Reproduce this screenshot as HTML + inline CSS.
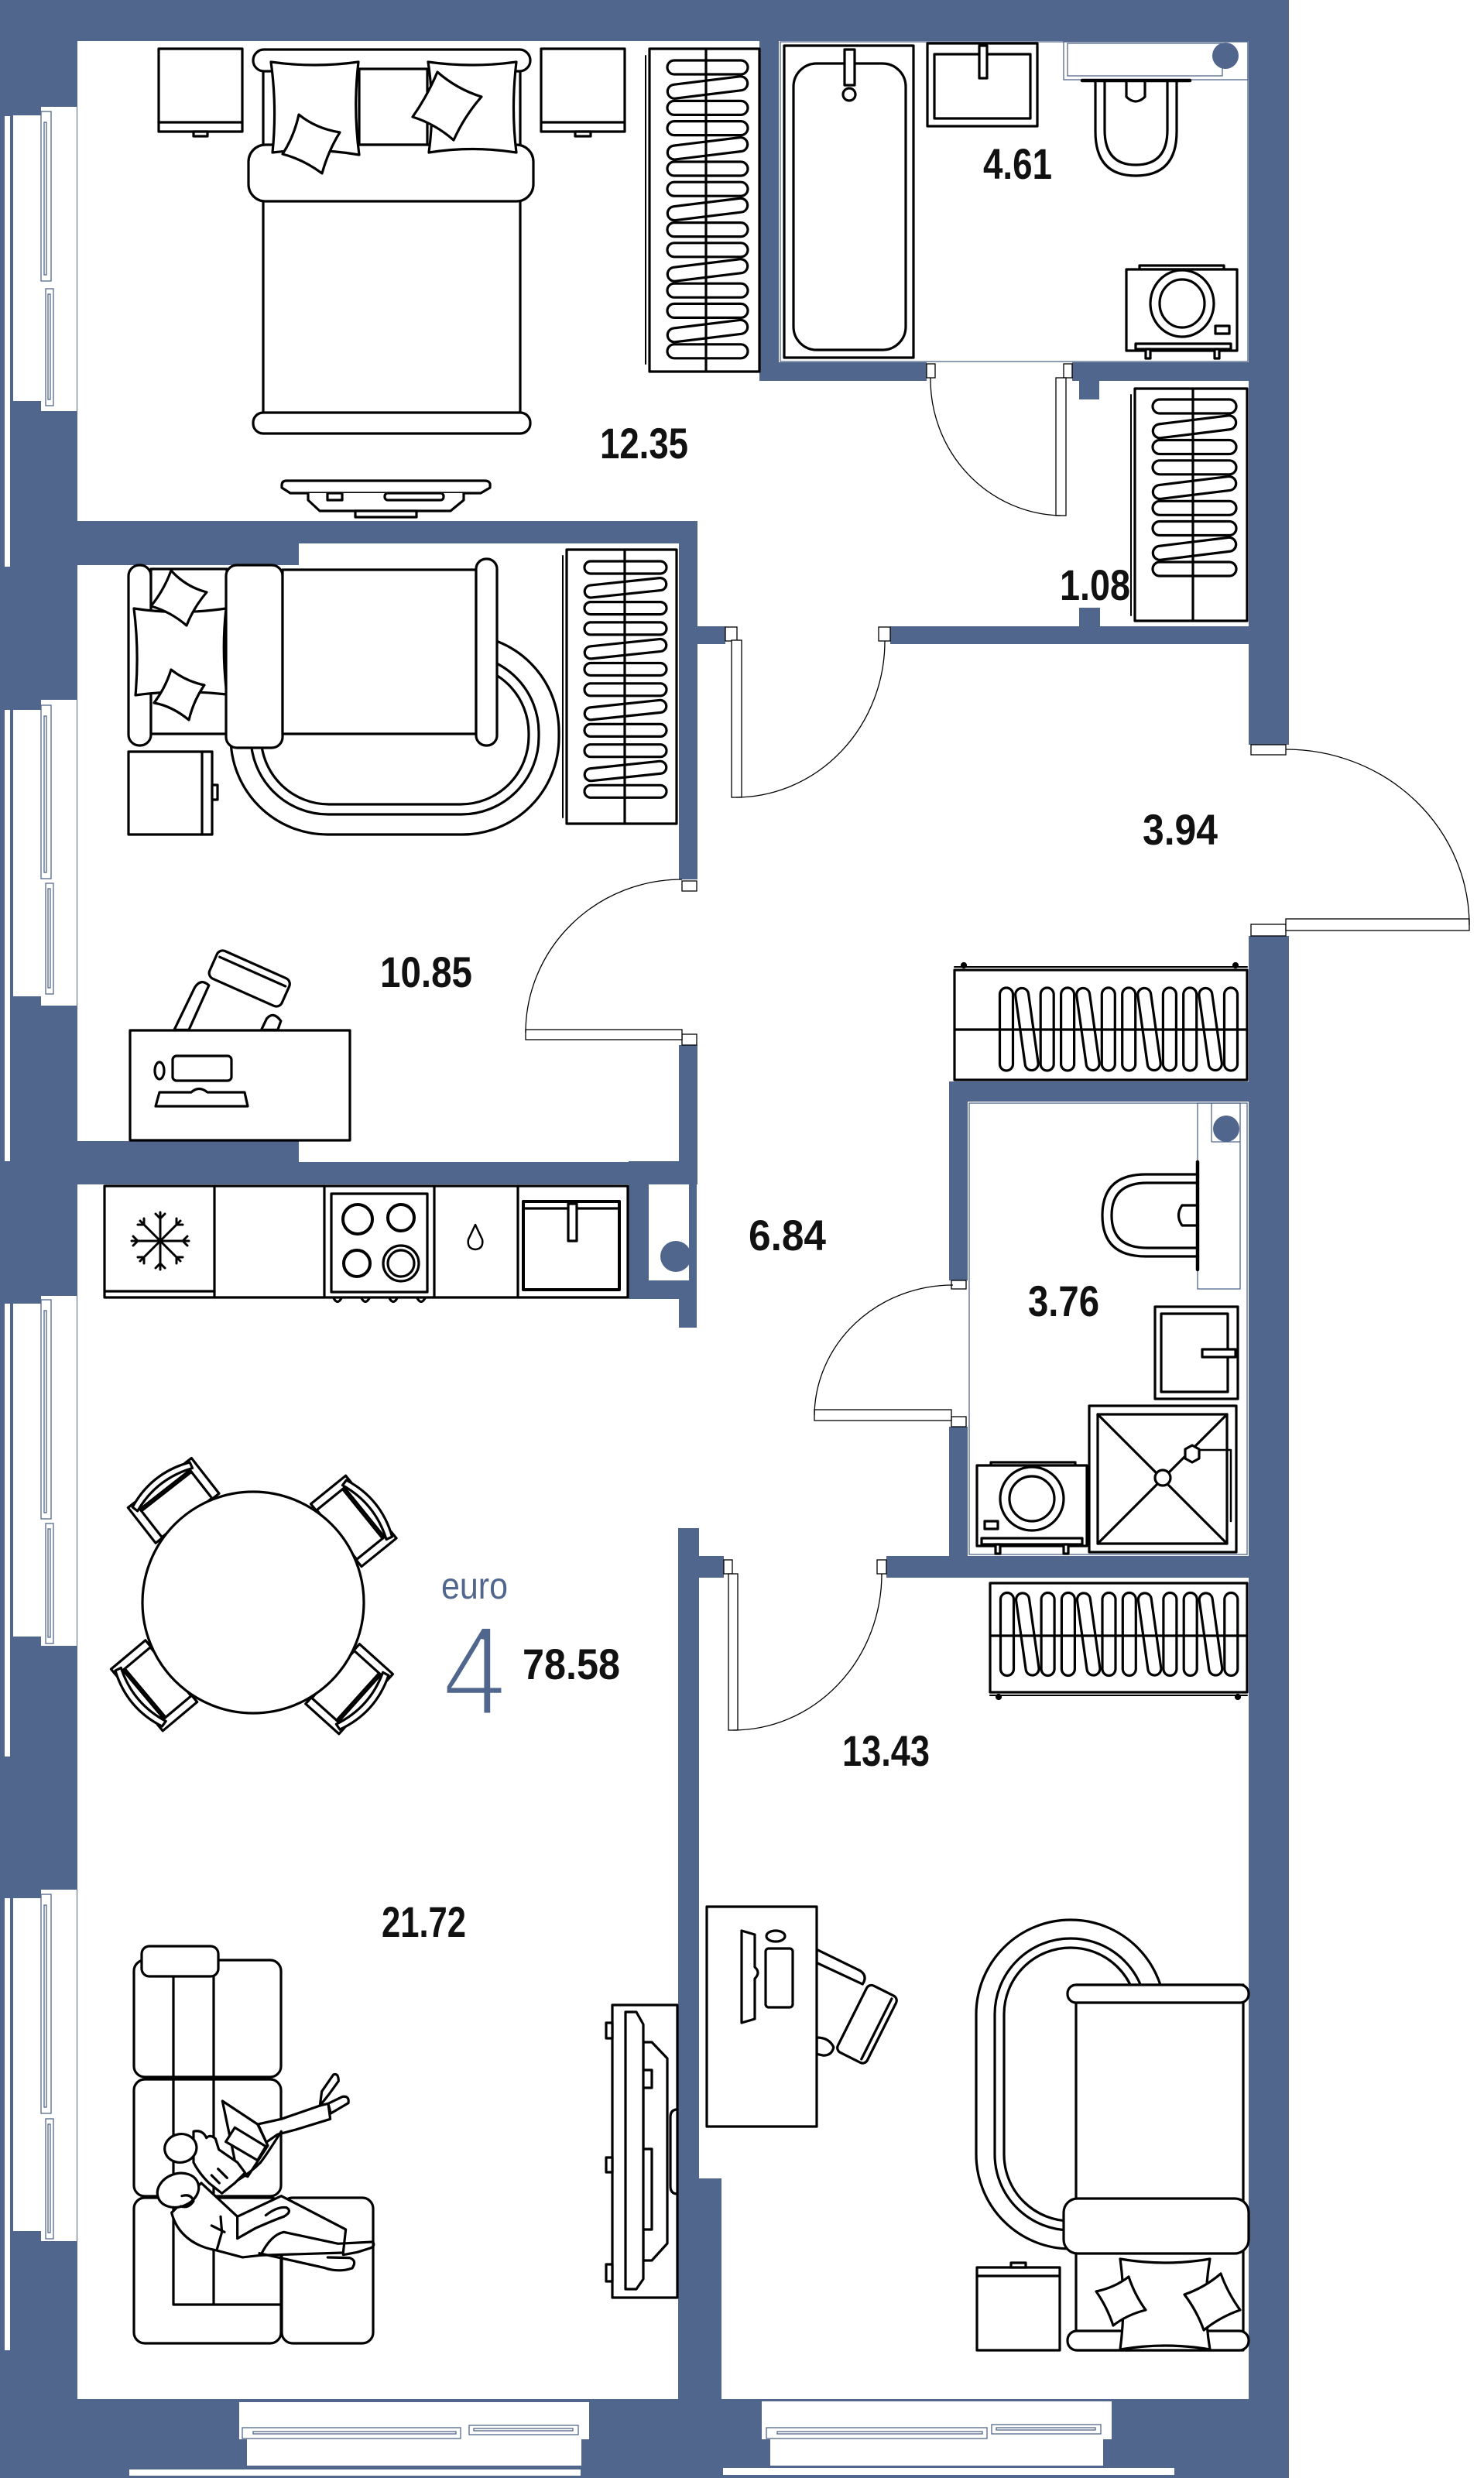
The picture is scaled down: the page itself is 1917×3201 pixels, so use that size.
<!DOCTYPE html>
<html><head><meta charset="utf-8">
<style>
html,body{margin:0;padding:0;background:#fff;}
svg{display:block;}
</style></head><body>
<svg width="1917" height="3201" viewBox="0 0 1917 3201" xmlns="http://www.w3.org/2000/svg" xmlns:xlink="http://www.w3.org/1999/xlink">
<defs>
<rect id="l1" x="-52" y="-9" width="104" height="18" rx="9"/>
<rect id="l2" x="-53" y="-8" width="106" height="16" rx="8"/>
<rect id="l3" x="-54" y="-9" width="108" height="18" rx="9"/>
<rect id="lv" x="-8.5" y="-53.5" width="17" height="107" rx="8.5"/>
<g id="dchair">
<rect x="-42" y="-42" width="84" height="46"/>
<rect x="-52" y="-53" width="11" height="58"/>
<rect x="41" y="-53" width="11" height="58"/>
<line x1="-41" y1="-39" x2="41" y2="-39"/>
<path d="M-45 -42 Q0 -60 45 -42 L47 -50 Q0 -70 -47 -50 Z"/>
</g>
</defs>

<rect width="1917" height="3201" fill="#fff"/>

<!-- WALLS -->
<g fill="#51668c">
<rect x="0" y="0" width="1665" height="53"/>
<rect x="0" y="0" width="100" height="3201"/>
<rect x="1613" y="0" width="52" height="962"/>
<rect x="1613" y="1209" width="52" height="1992"/>
<rect x="0" y="3099" width="1665" height="102"/>
<rect x="100" y="673" width="801" height="29"/>
<rect x="100" y="700" width="286" height="30"/>
<rect x="877" y="673" width="24" height="463"/>
<rect x="877" y="1350" width="24" height="180"/>
<rect x="100" y="1474" width="286" height="30"/>
<rect x="100" y="1501" width="801" height="29"/>
<path fill-rule="evenodd" d="M812 1500 H900 V1715 H877 V1678 H812 Z M838 1526 V1654 H890 V1526 Z"/>
<rect x="876" y="1974" width="27" height="1130"/>
<rect x="903" y="2814" width="29" height="290"/>
<rect x="901" y="809" width="36" height="23"/>
<rect x="1150" y="809" width="463" height="23"/>
<rect x="1394" y="785" width="27" height="25"/>
<rect x="981" y="50" width="25" height="442"/>
<rect x="981" y="468" width="216" height="24"/>
<rect x="1385" y="468" width="228" height="24"/>
<rect x="1394" y="490" width="26" height="26"/>
<rect x="1226" y="1397" width="387" height="26"/>
<rect x="1226" y="1397" width="24" height="257"/>
<rect x="1226" y="1843" width="24" height="195"/>
<rect x="1145" y="2010" width="468" height="28"/>
<rect x="903" y="2010" width="32" height="28"/>
</g>
<circle cx="873" cy="1623" r="20" fill="#51668c"/>

<!-- LEFT WINDOWS -->
<g fill="#fff">
<rect x="53" y="138" width="46" height="393"/><rect x="17" y="149" width="36" height="369"/><rect x="6" y="150" width="7" height="582"/>
<rect x="53" y="904" width="46" height="395"/><rect x="17" y="917" width="36" height="370"/><rect x="6" y="917" width="7" height="583"/>
<rect x="53" y="1674" width="46" height="452"/><rect x="17" y="1684" width="36" height="430"/><rect x="6" y="1684" width="7" height="585"/>
<rect x="53" y="2441" width="46" height="454"/><rect x="17" y="2452" width="36" height="430"/><rect x="6" y="2452" width="7" height="584"/>
<rect x="309" y="3103" width="452" height="48"/><rect x="319" y="3150" width="432" height="35"/><rect x="167" y="3190" width="583" height="8"/>
<rect x="984" y="3102" width="452" height="49"/><rect x="995" y="3151" width="430" height="34"/><rect x="934" y="3188" width="583" height="9"/>
</g>
<g fill="none" stroke="#51668c" stroke-width="1.3">
<rect x="53" y="144" width="13" height="219"/><rect x="57" y="158" width="3" height="197"/><rect x="59" y="373" width="10" height="151"/><rect x="62" y="380" width="3" height="136"/>
<rect x="53" y="911" width="13" height="224"/><rect x="57" y="925" width="3" height="202"/><rect x="59" y="1141" width="10" height="143"/><rect x="62" y="1148" width="3" height="128"/>
<rect x="53" y="1679" width="13" height="283"/><rect x="57" y="1693" width="3" height="261"/><rect x="59" y="1968" width="10" height="155"/><rect x="62" y="1975" width="3" height="140"/>
<rect x="53" y="2447" width="13" height="283"/><rect x="57" y="2461" width="3" height="261"/><rect x="59" y="2737" width="10" height="155"/><rect x="62" y="2744" width="3" height="140"/>
<rect x="313" y="3136" width="282" height="14"/><rect x="327" y="3141" width="262" height="3"/><rect x="606" y="3133" width="141" height="12"/><rect x="612" y="3137" width="128" height="3"/>
<rect x="990" y="3136" width="285" height="14"/><rect x="1004" y="3141" width="265" height="3"/><rect x="1281" y="3132" width="141" height="12"/><rect x="1287" y="3136" width="128" height="3"/>
<rect x="1008" y="54" width="604" height="413"/>
<rect x="1374" y="53" width="238" height="50"/>
<rect x="1379" y="56" width="200" height="42"/>
<rect x="1252" y="1425" width="359" height="583"/>
<rect x="1547" y="1425" width="55" height="240"/>
<line x1="1565" y1="1425" x2="1565" y2="1475"/><line x1="1565" y1="1475" x2="1602" y2="1475"/>
</g>
<circle cx="1583" cy="72" r="17" fill="#51668c"/>
<circle cx="1584" cy="1458" r="17" fill="#51668c"/>

<!-- DOORS -->
<g fill="#fff" stroke="#000" stroke-width="1.3">
<rect x="1197" y="470" width="11" height="18"/><rect x="1374" y="470" width="11" height="18"/><rect x="1364" y="488" width="13" height="178"/>
<rect x="937" y="810" width="15" height="18"/><rect x="1135" y="810" width="15" height="18"/><rect x="945" y="827" width="13" height="203"/>
<rect x="881" y="1138" width="19" height="13"/><rect x="881" y="1336" width="19" height="14"/><rect x="679" y="1330" width="202" height="13"/>
<rect x="1616" y="962" width="45" height="13"/><rect x="1616" y="1194" width="45" height="15"/><rect x="1661" y="1187" width="237" height="15"/>
<rect x="1229" y="1654" width="19" height="11"/><rect x="1229" y="1830" width="19" height="13"/><rect x="1052" y="1821" width="177" height="14"/>
<rect x="935" y="2015" width="11" height="18"/><rect x="1133" y="2015" width="12" height="18"/><rect x="941" y="2033" width="12" height="202"/>
</g>
<g fill="none" stroke="#000" stroke-width="1.3">
<path d="M1202 488 A172 176 0 0 0 1370 666"/>
<path d="M1143 828 A193 202 0 0 1 951 1030"/>
<path d="M881 1136 A202 198 0 0 0 679 1334"/>
<path d="M1661 968 A237 227 0 0 1 1898 1195"/>
<path d="M1231 1660 A179 170 0 0 0 1052 1828"/>
<path d="M1139 2033 A192 202 0 0 1 947 2235"/>
</g>

<!-- FURNITURE -->
<g fill="#fff" stroke="#000" stroke-width="3.2" stroke-linejoin="round" stroke-linecap="round">

<!-- Bedroom 12.35 -->
<rect x="205" y="63" width="108" height="107"/><line x1="205" y1="158" x2="313" y2="158"/><rect x="250" y="170" width="18" height="6"/>
<rect x="699" y="63" width="108" height="107"/><line x1="699" y1="158" x2="807" y2="158"/><rect x="743" y="170" width="20" height="6"/>
<rect x="340" y="72" width="332" height="470"/>
<rect x="327" y="64" width="358" height="28" rx="14"/>
<rect x="464" y="89" width="88" height="98"/>
<rect x="321" y="187" width="368" height="73" rx="22"/>
<path d="M350 80 Q406 88 463 80 Q456 140 464 200 Q406 190 352 197 Q358 138 350 80 Z"/>
<path d="M553 80 Q610 88 667 80 Q660 140 667 197 Q610 188 554 197 Q562 138 553 80 Z"/>
<path d="M386 148 Q408 166 439 171 Q424 195 416 224 Q392 206 365 199 Q380 176 386 148 Z"/>
<path d="M565 93 Q590 115 622 125 Q600 150 586 181 Q562 160 533 151 Q552 124 565 93 Z"/>
<rect x="327" y="533" width="358" height="27" rx="13"/>
<path d="M370 621 H626 Q634 621 633 628 V630 L621 637 H375 L364 630 V627 Q364 621 370 621 Z"/>
<path d="M398 637 V646 L413 660 H582 L599 646 V637"/>
<rect x="459" y="660" width="79" height="8"/>
<rect x="423" y="637" width="19" height="9"/>
<rect x="497" y="637" width="76" height="9" rx="4"/>
<!-- wardrobe 1 -->
<rect x="839" y="63" width="142" height="417"/>
<line x1="834" y1="72" x2="834" y2="470" stroke-width="2"/>
<use xlink:href="#l1" transform="translate(914 87)"/>
<use xlink:href="#l1" transform="translate(914 113) rotate(-7)"/>
<use xlink:href="#l1" transform="translate(914 139.4)"/>
<use xlink:href="#l1" transform="translate(914 165.6)"/>
<use xlink:href="#l1" transform="translate(914 191.8) rotate(-7)"/>
<use xlink:href="#l1" transform="translate(914 218)"/>
<use xlink:href="#l1" transform="translate(914 244.2)"/>
<use xlink:href="#l1" transform="translate(914 270.4) rotate(-7)"/>
<use xlink:href="#l1" transform="translate(914 296.6)"/>
<use xlink:href="#l1" transform="translate(914 322.8)"/>
<use xlink:href="#l1" transform="translate(914 349) rotate(-7)"/>
<use xlink:href="#l1" transform="translate(914 375.2)"/>
<use xlink:href="#l1" transform="translate(914 401.4)"/>
<use xlink:href="#l1" transform="translate(914 427.6) rotate(-7)"/>
<use xlink:href="#l1" transform="translate(914 453.8)"/>
<line x1="912" y1="63" x2="912" y2="480" fill="none"/>

<!-- Bathroom 4.61 -->
<rect x="1013" y="59" width="167" height="403"/>
<rect x="1025" y="82" width="145" height="370" rx="30"/>
<rect x="1091" y="64" width="13" height="46"/>
<circle cx="1097" cy="122" r="8"/>
<rect x="1198" y="56" width="142" height="107"/>
<rect x="1207" y="70" width="124" height="83"/>
<rect x="1265" y="59" width="10" height="42"/>
<path d="M1415 105 V170 Q1415 227 1467 227 Q1520 227 1520 170 V105"/>
<path d="M1427 105 V168 Q1427 213 1467 213 Q1508 213 1508 168 V105"/>
<path d="M1455 105 V125 Q1467 137 1479 125 V105"/>
<line x1="1398" y1="104" x2="1537" y2="104" stroke-width="4.5"/>
<rect x="1472" y="343" width="109" height="5"/>
<rect x="1455" y="348" width="143" height="105"/>
<ellipse cx="1527" cy="392" rx="41" ry="43"/>
<ellipse cx="1527" cy="392" rx="29" ry="31"/>
<rect x="1570" y="421" width="18" height="10"/>
<rect x="1467" y="444" width="123" height="7"/>
<rect x="1480" y="451" width="6" height="12"/><rect x="1569" y="451" width="6" height="12"/>

<!-- 1.08 wardrobe -->
<rect x="1466" y="502" width="145" height="300"/>
<line x1="1461" y1="510" x2="1461" y2="795" stroke-width="2"/>
<use xlink:href="#l3" transform="translate(1543 525)"/>
<use xlink:href="#l3" transform="translate(1543 551.3) rotate(-7)"/>
<use xlink:href="#l3" transform="translate(1543 577.5)"/>
<use xlink:href="#l3" transform="translate(1543 603.8)"/>
<use xlink:href="#l3" transform="translate(1543 630) rotate(-7)"/>
<use xlink:href="#l3" transform="translate(1543 656.3)"/>
<use xlink:href="#l3" transform="translate(1543 682.5)"/>
<use xlink:href="#l3" transform="translate(1543 708.8) rotate(-7)"/>
<use xlink:href="#l3" transform="translate(1543 735)"/>
<line x1="1541" y1="502" x2="1541" y2="802" fill="none"/>

<!-- Room 10.85 -->
<rect x="298" y="820" width="424" height="258" rx="125"/>
<rect x="324" y="846" width="372" height="206" rx="100"/>
<rect x="337" y="859" width="346" height="180" rx="88"/>
<rect x="166" y="730" width="29" height="233" rx="14"/>
<rect x="195" y="735" width="98" height="213"/>
<path d="M173 786 Q230 795 292 786 Q286 840 293 897 Q232 890 175 898 Q180 842 173 786 Z"/>
<path d="M221 737 Q240 758 267 765 Q250 785 241 808 Q220 790 195 783 Q212 762 221 737 Z"/>
<path d="M221 865 Q240 880 264 885 Q250 905 244 930 Q222 912 199 908 Q214 888 221 865 Z"/>
<rect x="292" y="730" width="73" height="236" rx="14"/>
<rect x="365" y="736" width="250" height="212"/>
<rect x="615" y="722" width="27" height="241" rx="13"/>
<rect x="166" y="971" width="108" height="107"/>
<line x1="261" y1="971" x2="261" y2="1078"/>
<rect x="274" y="1014" width="7" height="19"/>
<rect x="732" y="710" width="142" height="354"/>
<line x1="727" y1="718" x2="727" y2="1056" stroke-width="2"/>
<use xlink:href="#l2" transform="translate(808 733)"/>
<use xlink:href="#l2" transform="translate(808 759.3) rotate(-6)"/>
<use xlink:href="#l2" transform="translate(808 785.6)"/>
<use xlink:href="#l2" transform="translate(808 811.9)"/>
<use xlink:href="#l2" transform="translate(808 838.2) rotate(-6)"/>
<use xlink:href="#l2" transform="translate(808 864.5)"/>
<use xlink:href="#l2" transform="translate(808 890.8)"/>
<use xlink:href="#l2" transform="translate(808 917.1) rotate(-6)"/>
<use xlink:href="#l2" transform="translate(808 943.4)"/>
<use xlink:href="#l2" transform="translate(808 969.7)"/>
<use xlink:href="#l2" transform="translate(808 996) rotate(-6)"/>
<use xlink:href="#l2" transform="translate(808 1022.3)"/>
<line x1="807" y1="710" x2="807" y2="1064" fill="none"/>
<g transform="translate(0 650) scale(0.5741)" stroke-width="5.6">
<path d="M392 1185 L438 1090 Q452 1068 470 1085 L425 1185 Z"/>
<path d="M588 1185 L600 1160 Q615 1142 632 1165 L625 1185 Z"/>
<g transform="rotate(24 560 1070)"><rect x="472" y="1035" width="178" height="68" rx="14"/><line x1="480" y1="1052" x2="642" y2="1052"/></g>
</g>
<rect x="168" y="1331" width="284" height="142"/>
<rect x="223" y="1364" width="76" height="32" rx="5"/>
<ellipse cx="206" cy="1383" rx="6" ry="11"/>
<path d="M201 1429 L206 1411 H247 Q257 1402 268 1411 H316 L320 1429 Z"/>

<!-- Kitchen -->
<rect x="135" y="1532" width="676" height="144"/>
<line x1="277" y1="1532" x2="277" y2="1676"/><line x1="419" y1="1532" x2="419" y2="1676"/>
<line x1="561" y1="1532" x2="561" y2="1676"/><line x1="669" y1="1532" x2="669" y2="1676"/>
<line x1="135" y1="1668" x2="277" y2="1668"/>
<g fill="none" stroke-width="3">
<path d="M170 1603 H244 M207 1566 V1640 M181 1577 L233 1629 M233 1577 L181 1629"/>
<path d="M242 1597 L236 1603 L242 1609 M172 1597 L178 1603 L172 1609 M201 1568 L207 1574 L213 1568 M201 1638 L207 1632 L213 1638"/>
<path d="M236 1582 L228 1582 L228 1574 M178 1582 L186 1582 L186 1574 M178 1624 L186 1624 L186 1632 M236 1624 L228 1624 L228 1632"/>
</g>
<rect x="428" y="1542" width="124" height="127"/>
<circle cx="462" cy="1575" r="19" stroke-width="4"/>
<circle cx="518" cy="1573" r="17" stroke-width="4"/>
<circle cx="461" cy="1632" r="17" stroke-width="4"/>
<circle cx="518" cy="1632" r="23"/>
<circle cx="518" cy="1632" r="17"/>
<path d="M431 1677 Q436 1686 441 1677 M467 1677 Q472 1686 477 1677 M503 1677 Q508 1686 513 1677 M539 1677 Q544 1686 549 1677" fill="none"/>
<path d="M614 1582 Q620 1595 623 1601 Q625 1613 614 1614 Q603 1613 605 1601 Q608 1595 614 1582 Z" stroke-width="2.5"/>
<rect x="676" y="1552" width="124" height="114" stroke-width="4"/>
<line x1="676" y1="1561" x2="800" y2="1561"/>
<rect x="734" y="1555" width="11" height="48"/>

<!-- Dining -->
<use xlink:href="#dchair" transform="translate(327 2070) rotate(-38) translate(0 -143)"/>
<use xlink:href="#dchair" transform="translate(327 2070) rotate(51) translate(0 -143)"/>
<use xlink:href="#dchair" transform="translate(327 2070) rotate(132) translate(0 -143)"/>
<use xlink:href="#dchair" transform="translate(327 2070) rotate(-130) translate(0 -143)"/>
<circle cx="327" cy="2070" r="143"/>

<!-- Living sofa -->
<rect x="173" y="2532" width="190" height="151" rx="14"/>
<rect x="173" y="2686" width="190" height="151" rx="14"/>
<rect x="173" y="2839" width="190" height="188" rx="14"/>
<rect x="364" y="2839" width="118" height="188" rx="14"/>
<rect x="183" y="2514" width="99" height="39" rx="10"/>
<path d="M224 2553 V2977 H363 M276 2553 V2977" fill="none"/>
<g transform="translate(150 2620) scale(0.3333)" stroke-width="9.6">
<path d="M550 372 L640 352 L790 300 L822 292 L830 352 L700 392 L625 412 L582 442 Z"/>
<path d="M790 300 L797 245 L842 180 Q862 172 862 205 L822 260 Z"/>
<path d="M822 292 L878 265 Q905 262 900 290 L832 330 Z"/>
<path d="M412 282 L548 372 L588 455 L510 575 L470 560 Z"/>
<path d="M425 440 L460 385 L580 458 L548 512 Z"/>
<path d="M640 400 Q590 480 560 520 Q520 560 470 590" fill="none"/>
<path d="M300 400 Q335 392 350 425 Q365 410 385 428 L398 470 L470 520 L500 560 L460 600 L410 640 L360 600 Q320 560 300 520 Z"/>
<path d="M370 570 L400 600 M395 545 L430 580" fill="none"/>
<ellipse cx="250" cy="465" rx="62" ry="55" transform="rotate(-10 250 465)"/>
<path d="M330 600 L470 730 L640 650 L890 780 L880 870 L560 880 L490 888 L385 860 C300 845 235 795 215 715 Z"/>
<path d="M560 880 Q600 800 650 790 L860 835 L995 828 Q1005 845 985 852 L935 868 L880 878" fill="none"/>
<path d="M555 872 L805 928 Q860 948 915 930 Q935 900 905 890 L820 888" fill="none"/>
<path d="M470 730 V815 L540 775 Q620 740 650 730 Q685 710 660 695 Q625 690 580 725" fill="none"/>
<path d="M370 765 L420 790 M405 730 L410 790 L390 860" fill="none"/>
<ellipse cx="240" cy="628" rx="82" ry="64" transform="rotate(-20 240 628)"/>
<path d="M255 650 Q290 640 300 670 Q280 700 250 690" fill="none"/>
</g>
<!-- TV -->
<rect x="791" y="2590" width="84" height="378"/>
<rect x="783" y="2613" width="8" height="20"/><rect x="783" y="2787" width="8" height="19"/><rect x="783" y="2925" width="8" height="22"/>
<path d="M831 2638 H842 L862 2659 V2898 L842 2920 H831 Z"/>
<rect x="830" y="2674" width="12" height="23"/>
<rect x="830" y="2776" width="12" height="104"/>
<path d="M808 2599 H822 L831 2615 V2944 L822 2957 H808 Z"/>
<path d="M875 2725 Q866 2725 866 2735 V2824 Q866 2834 875 2834" fill="none"/>

<!-- Hall wardrobe -->
<rect x="1233" y="1253" width="378" height="142"/>
<line x1="1233" y1="1249" x2="1611" y2="1249" stroke-width="2"/>
<circle cx="1245" cy="1247" r="2.5" fill="#000"/><circle cx="1596" cy="1247" r="2.5" fill="#000"/>
<use xlink:href="#lv" transform="translate(1300 1329.5)"/>
<use xlink:href="#lv" transform="translate(1326.4 1329.5) rotate(-8)"/>
<use xlink:href="#lv" transform="translate(1352.7 1329.5)"/>
<use xlink:href="#lv" transform="translate(1379.1 1329.5)"/>
<use xlink:href="#lv" transform="translate(1405.4 1329.5) rotate(-8)"/>
<use xlink:href="#lv" transform="translate(1431.8 1329.5)"/>
<use xlink:href="#lv" transform="translate(1458.2 1329.5)"/>
<use xlink:href="#lv" transform="translate(1484.5 1329.5) rotate(-8)"/>
<use xlink:href="#lv" transform="translate(1510.9 1329.5)"/>
<use xlink:href="#lv" transform="translate(1537.2 1329.5)"/>
<use xlink:href="#lv" transform="translate(1563.6 1329.5) rotate(-8)"/>
<use xlink:href="#lv" transform="translate(1590 1329.5)"/>
<line x1="1233" y1="1330" x2="1611" y2="1330" fill="none"/>

<!-- Bathroom 3.76 -->
<path d="M1547 1517 H1480 Q1424 1517 1424 1570 Q1424 1623 1480 1623 H1547"/>
<path d="M1547 1528 H1482 Q1436 1528 1436 1570 Q1436 1612 1482 1612 H1547"/>
<path d="M1547 1557 H1527 Q1518 1570 1527 1583 H1547"/>
<line x1="1547" y1="1501" x2="1547" y2="1640" stroke-width="4.5"/>
<rect x="1492" y="1688" width="107" height="119"/>
<rect x="1500" y="1697" width="86" height="101"/>
<rect x="1553" y="1743" width="43" height="10"/>
<rect x="1407" y="1816" width="190" height="189"/>
<rect x="1418" y="1827" width="167" height="167"/>
<path d="M1418 1827 L1585 1994 M1585 1827 L1418 1994" fill="none"/>
<path d="M1545 1873 H1590 V1965" fill="none" stroke-width="2.5"/>
<circle cx="1502" cy="1909" r="10"/>
<path d="M1531 1872 L1540 1867 L1549 1872 L1549 1884 L1540 1889 L1531 1884 Z"/>
<rect x="1280" y="1889" width="109" height="4"/>
<rect x="1262" y="1893" width="142" height="104"/>
<circle cx="1333" cy="1936" r="41"/>
<circle cx="1333" cy="1936" r="29"/>
<rect x="1272" y="1965" width="17" height="10"/>
<rect x="1268" y="1987" width="130" height="8"/>
<rect x="1286" y="1995" width="6" height="12"/><rect x="1374" y="1995" width="6" height="12"/>

<!-- Bedroom 13.43 wardrobe -->
<rect x="1279" y="2045" width="332" height="141"/>
<line x1="1279" y1="2190" x2="1611" y2="2190" stroke-width="2"/>
<circle cx="1290" cy="2192" r="2.5" fill="#000"/><circle cx="1599" cy="2192" r="2.5" fill="#000"/>
<use xlink:href="#lv" transform="translate(1301 2111)"/>
<use xlink:href="#lv" transform="translate(1327.3 2111) rotate(-8)"/>
<use xlink:href="#lv" transform="translate(1353.6 2111)"/>
<use xlink:href="#lv" transform="translate(1379.9 2111)"/>
<use xlink:href="#lv" transform="translate(1406.2 2111) rotate(-8)"/>
<use xlink:href="#lv" transform="translate(1432.5 2111)"/>
<use xlink:href="#lv" transform="translate(1458.8 2111)"/>
<use xlink:href="#lv" transform="translate(1485.1 2111) rotate(-8)"/>
<use xlink:href="#lv" transform="translate(1511.4 2111)"/>
<use xlink:href="#lv" transform="translate(1537.7 2111)"/>
<use xlink:href="#lv" transform="translate(1564 2111) rotate(-8)"/>
<use xlink:href="#lv" transform="translate(1590.3 2111)"/>
<line x1="1279" y1="2113" x2="1611" y2="2113" fill="none"/>

<!-- Bedroom 13.43 desk & chair -->
<g transform="translate(850 2300) scale(0.5744)" stroke-width="5.6">
<path d="M357 380 L455 428 Q472 440 460 458 L357 410 Z"/>
<path d="M357 578 Q385 578 395 600 Q390 620 370 618 L357 615 Z"/>
<g transform="rotate(26.6 470 548)"><rect x="433" y="464" width="74" height="168" rx="12"/><line x1="494" y1="472" x2="494" y2="624"/></g>
</g>
<rect x="913" y="2463" width="142" height="284"/>
<path d="M958 2494 L975 2499 V2541 Q983 2548 975 2556 V2608 L958 2613 Z"/>
<rect x="989" y="2517" width="35" height="76" rx="4"/>
<ellipse cx="1002" cy="2501" rx="12" ry="7"/>

<!-- Bed 13.43 -->
<rect x="1261" y="2480" width="244" height="425" rx="122"/>
<rect x="1285" y="2504" width="196" height="377" rx="98"/>
<rect x="1297" y="2516" width="172" height="353" rx="86"/>
<rect x="1390" y="2564" width="216" height="472"/>
<rect x="1379" y="2564" width="234" height="23" rx="11"/>
<rect x="1374" y="2840" width="239" height="71" rx="18"/>
<rect x="1379" y="3011" width="234" height="25" rx="12"/>
<path d="M1447 2918 Q1505 2928 1563 2918 Q1553 2975 1563 3035 Q1505 3025 1447 3035 Q1455 2975 1447 2918 Z"/>
<path d="M1416 2960 Q1440 2955 1458 2941 Q1466 2965 1480 2984 Q1456 2990 1438 3004 Q1430 2980 1416 2960 Z"/>
<path d="M1530 2964 Q1556 2955 1577 2937 Q1586 2962 1602 2984 Q1576 2993 1555 3010 Q1546 2985 1530 2964 Z"/>
<rect x="1262" y="2929" width="107" height="107"/>
<line x1="1262" y1="2940" x2="1369" y2="2940"/>
<rect x="1306" y="2923" width="19" height="6"/>
</g>

<!-- LABELS -->
<g font-family="'Liberation Sans', Arial, sans-serif" font-weight="bold" font-size="56" fill="#111">
<text x="775" y="592" textLength="114" lengthAdjust="spacingAndGlyphs">12.35</text>
<text x="1270" y="231" textLength="89" lengthAdjust="spacingAndGlyphs">4.61</text>
<text x="1369" y="775" textLength="91" lengthAdjust="spacingAndGlyphs">1.08</text>
<text x="491" y="1275" textLength="119" lengthAdjust="spacingAndGlyphs">10.85</text>
<text x="1476" y="1091" textLength="97" lengthAdjust="spacingAndGlyphs">3.94</text>
<text x="967" y="1615" textLength="100" lengthAdjust="spacingAndGlyphs">6.84</text>
<text x="1328" y="1700" textLength="92" lengthAdjust="spacingAndGlyphs">3.76</text>
<text x="1088" y="2281" textLength="113" lengthAdjust="spacingAndGlyphs">13.43</text>
<text x="493" y="2502" textLength="109" lengthAdjust="spacingAndGlyphs">21.72</text>
<text x="675" y="2169" textLength="126" lengthAdjust="spacingAndGlyphs">78.58</text>
</g>
<text x="570" y="2065" font-family="'Liberation Sans', Arial, sans-serif" font-size="48" fill="#51668c" textLength="86" lengthAdjust="spacingAndGlyphs">euro</text>
<text x="572" y="2215" font-family="'Liberation Sans', Arial, sans-serif" font-size="165" fill="#51668c" stroke="#fff" stroke-width="5" textLength="82" lengthAdjust="spacingAndGlyphs">4</text>
</svg>
</body></html>
